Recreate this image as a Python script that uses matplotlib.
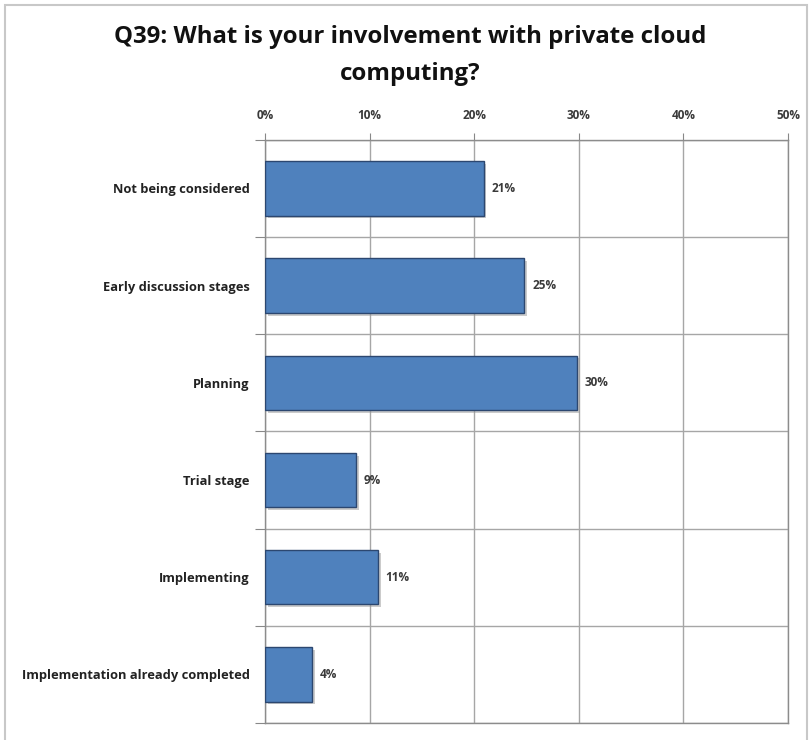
import matplotlib.pyplot as plt
import matplotlib.patheffects as pe
from matplotlib.patches import Rectangle
import numpy as np

categories = [
    "Not being considered",
    "Early discussion stages",
    "Planning",
    "Trial stage",
    "Implementing",
    "Implementation already completed",
]
values = [20.9, 24.8, 29.8, 8.7, 10.8, 4.5]
value_labels = ["21%", "25%", "30%", "9%", "11%", "4%"]
x_ticks = [0, 10, 20, 30, 40, 50]
x_tick_labels = ["0%", "10%", "20%", "30%", "40%", "50%"]

plt.rcParams["font.family"] = ["Open Sans", "DejaVu Sans"]

fig = plt.figure(figsize=(8.1, 7.4), dpi=100)
fig.patches.append(Rectangle((0.006, -0.01), 0.99, 1.003, transform=fig.transFigure,
                             fill=False, edgecolor="#c8c8c8", linewidth=1.5))
ax = fig.add_axes([0.327, 0.023, 0.646, 0.788])

n = len(categories)
pos = np.arange(n)
bars = ax.barh(pos, values, height=0.56, color="#4f81bd", edgecolor="#2c4770", linewidth=1.0,
               zorder=3)
for b in bars:
    b.set_path_effects([pe.SimplePatchShadow(offset=(2, -2), shadow_rgbFace="#999999", alpha=0.5),
                        pe.Normal()])
for p, v, lab in zip(pos, values, value_labels):
    ax.text(v + 0.75, p, lab, va="center", ha="left", fontsize=8.5, fontweight="bold", color="#3a3a3a")

ax.set_xlim(0, 50)
ax.set_ylim(n - 0.5, -0.5)
ax.xaxis.tick_top()
ax.set_xticks(x_ticks)
ax.set_xticklabels(x_tick_labels, fontsize=8.5, fontweight="bold", color="#3a3a3a")
ax.tick_params(axis="x", length=5, color="#888888", pad=8)

ax.set_yticks(np.arange(-0.5, n, 1.0))
ax.set_yticklabels([])
ax.tick_params(axis="y", which="major", length=7, color="#888888")
ax.set_yticks(pos, minor=True)
ax.set_yticklabels(categories, minor=True, fontsize=9.3, fontweight="bold", color="#222222")
ax.tick_params(axis="y", which="minor", length=0, pad=11)

ax.grid(True, which="major", color="#a6a6a6", linewidth=1.0, zorder=0)
ax.set_axisbelow(True)
for s in ax.spines.values():
    s.set_color("#8c8c8c")
    s.set_linewidth(1.0)

fig.text(0.506, 0.950, "Q39: What is your involvement with private cloud", ha="center", va="center",
         fontsize=17.3, fontweight="bold", color="#111111")
fig.text(0.506, 0.900, "computing?", ha="center", va="center",
         fontsize=17.3, fontweight="bold", color="#111111")

fig.savefig("out.png", dpi=100)
